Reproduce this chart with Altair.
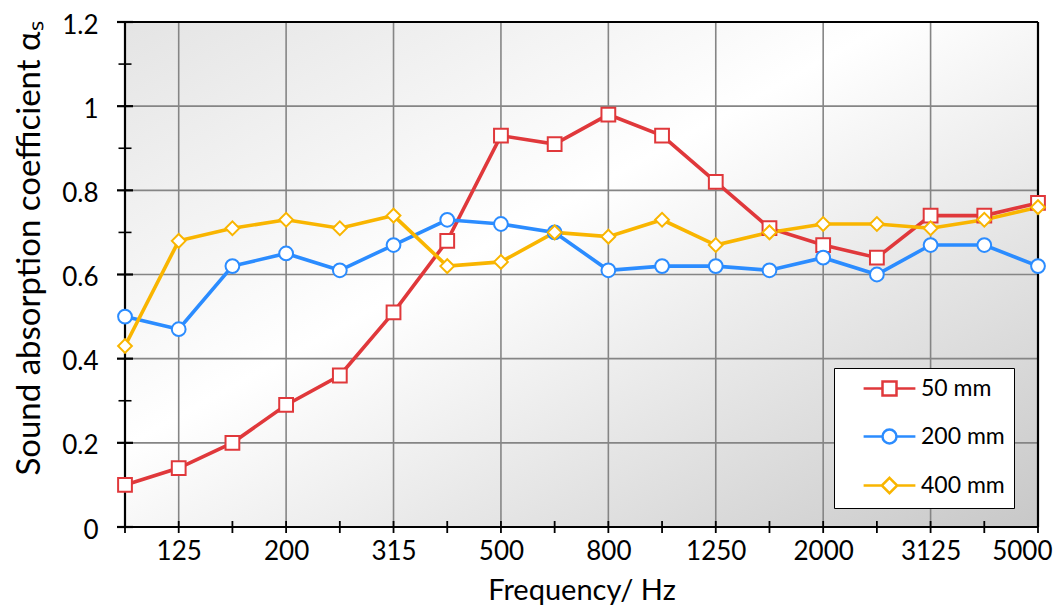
import altair as alt
import pandas as pd

# ---- data ----
freqs = ["100", "125", "160", "200", "250", "315", "400", "500", "630",
         "800", "1000", "1250", "1600", "2000", "2500", "3125", "4000", "5000"]
label_freqs = ["125", "200", "315", "500", "800", "1250", "2000", "3125", "5000"]
series = ["50 mm", "200 mm", "400 mm"]
colors = ["#e0383b", "#2b8cff", "#f9b500"]
shapes = ["square", "circle", "diamond"]

s50 = [0.10, 0.14, 0.20, 0.29, 0.36, 0.51, 0.68, 0.93, 0.91,
       0.98, 0.93, 0.82, 0.71, 0.67, 0.64, 0.74, 0.74, 0.77]
s200 = [0.50, 0.47, 0.62, 0.65, 0.61, 0.67, 0.73, 0.72, 0.70,
        0.61, 0.62, 0.62, 0.61, 0.64, 0.60, 0.67, 0.67, 0.62]
s400 = [0.43, 0.68, 0.71, 0.73, 0.71, 0.74, 0.62, 0.63, 0.70,
        0.69, 0.73, 0.67, 0.70, 0.72, 0.72, 0.71, 0.73, 0.76]

y_major = [0, 0.2, 0.4, 0.6, 0.8, 1, 1.2]
y_minor = [0.1, 0.3, 0.5, 0.7, 0.9, 1.1]
y_grid = [0.2, 0.4, 0.6, 0.8, 1.0]
x_grid = ["125", "200", "315", "500", "800", "1250", "2000", "3125"]

# legend symbols: line + marker
legend_paths = [
    "M-3.7,0H-1M1,0H3.7M-1,-1H1V1H-1Z",
    "M-3.7,0H-1M1,0H3.7M1,0A1,1,0,1,1,-1,0A1,1,0,1,1,1,0Z",
    "M-3.7,0H-1.1M1.1,0H3.7M0,-1.1L1.1,0L0,1.1L-1.1,0Z",
]

rows = []
for name, vals in zip(series, [s50, s200, s400]):
    for i, (f, v) in enumerate(zip(freqs, vals)):
        rows.append({"freq": f, "idx": i, "series": name, "value": v})
df = pd.DataFrame(rows)

W, H = 913, 505
FONT = "Lato"

xscale = alt.Scale(type="point", domain=freqs, padding=0)
yscale = alt.Scale(domain=[0, 1.2], nice=False, zero=True)
cscale = alt.Scale(domain=series, range=colors)

xaxis = alt.Axis(values=label_freqs, grid=False, ticks=False, domain=False,
                 labelFont=FONT, labelFontSize=26, labelColor="black",
                 labelPadding=11, labelAngle=0, labelFlush=True, labelFlushOffset=14,
                 title="Frequency/ Hz", titleFont=FONT, titleFontSize=29,
                 titleFontWeight="normal", titleColor="black",
                 titleBaseline="alphabetic", titleY=72)
yaxis = alt.Axis(values=y_major, format="~g", grid=False, ticks=False, domain=False,
                 labelFont=FONT, labelFontSize=26, labelColor="black",
                 labelPadding=27, labelOffset=3,
                 title="Sound absorption coefficient αₛ", titleFont=FONT,
                 titleFontSize=33, titleFontWeight="normal", titleColor="black",
                 titleBaseline="alphabetic", titleX=-86, titleY=226,
                 titleAngle=-90, titleAlign="center")

X = alt.X("freq:N", scale=xscale, axis=xaxis)
Y = alt.Y("value:Q", scale=yscale, axis=yaxis)

legend = alt.Legend(
    title=None, orient="none", legendX=709, legendY=346,
    fillColor="white", strokeColor="black", padding=9,
    labelFont=FONT, labelFontSize=23, labelColor="black",
    symbolSize=196, symbolStrokeWidth=2.5, symbolFillColor="white",
    symbolOpacity=1, symbolOffset=35, labelOffset=20, rowPadding=23)

C = alt.Color("series:N", scale=cscale, legend=legend)

gradient = alt.LinearGradient(
    gradient="linear", x1=0, y1=0, x2=1, y2=1,
    stops=[alt.GradientStop(color="#e4e4e4", offset=0),
           alt.GradientStop(color="#ffffff", offset=0.42),
           alt.GradientStop(color="#c8c8c8", offset=1)])

bg = alt.Chart(alt.Data(values=[{}])).mark_rect(fill=gradient).encode(
    x=alt.value(0), x2=alt.value(W), y=alt.value(0), y2=alt.value(H))

hgrid = alt.Chart(pd.DataFrame({"value": y_grid})).mark_rule(
    color="#858585", strokeWidth=1.6).encode(y=Y)
vgrid = alt.Chart(pd.DataFrame({"freq": x_grid})).mark_rule(
    color="#858585", strokeWidth=1.6).encode(x=X)

hframe = alt.Chart(pd.DataFrame({"value": [0, 1.2]})).mark_rule(
    color="black", strokeWidth=2.2).encode(y=Y)
vframe = alt.Chart(pd.DataFrame({"freq": [freqs[0], freqs[-1]]})).mark_rule(
    color="black", strokeWidth=2.2).encode(x=X)

ytick_major = alt.Chart(pd.DataFrame({"value": y_major})).mark_rule(
    color="black", strokeWidth=2.2).encode(y=Y, x=alt.value(-8), x2=alt.value(8))
ytick_minor = alt.Chart(pd.DataFrame({"value": y_minor})).mark_rule(
    color="black", strokeWidth=1.6).encode(y=Y, x=alt.value(-6.5), x2=alt.value(6.5))
xtick = alt.Chart(pd.DataFrame({"freq": freqs})).mark_rule(
    color="black", strokeWidth=1.8).encode(x=X, y=alt.value(H - 6), y2=alt.value(H + 6))

lines = alt.Chart(df).mark_line(strokeWidth=3.6).encode(
    x=X, y=Y, order=alt.Order("idx:Q"), color=C)

point_layers = []
for name, shp in zip(series, shapes):
    point_layers.append(
        alt.Chart(df).transform_filter(alt.datum.series == name).mark_point(
            shape=shp, filled=False, fill="white", fillOpacity=1, opacity=1,
            strokeWidth=2, size=190).encode(x=X, y=Y, color=C))

legend_layer = alt.Chart(df).transform_filter("false").mark_point(
    filled=False, fill="white", fillOpacity=1, size=196, strokeWidth=2.5).encode(
    x=X, y=Y, color=C,
    shape=alt.Shape("series:N", scale=alt.Scale(domain=series, range=legend_paths),
                    legend=legend))

chart = alt.layer(
    bg, hgrid, vgrid, hframe, vframe, ytick_major, ytick_minor, xtick,
    lines, *point_layers, legend_layer
).properties(
    width=W, height=H,
    autosize=alt.AutoSizeParams(type="none"),
    padding={"left": 117, "top": 14, "right": 15, "bottom": 81},
).configure_view(stroke=None).configure_legend(strokeWidth=2).configure(background="white")

chart.save("out.html", embed_options={"renderer": "svg", "actions": False})
